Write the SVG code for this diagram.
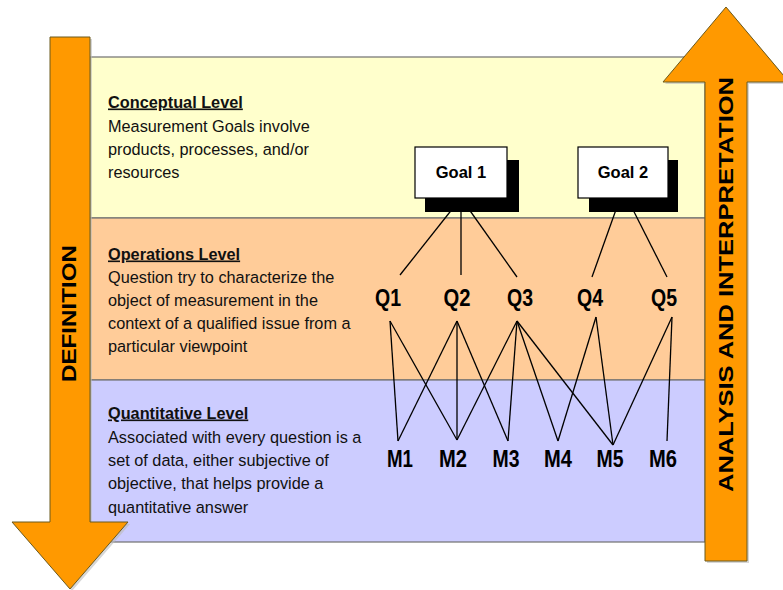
<svg xmlns="http://www.w3.org/2000/svg" width="783" height="590" viewBox="0 0 783 590">
<style>
.band{stroke:#707070;stroke-width:1.2}
.arrow{fill:#FF9900;stroke:#6B5A1E;stroke-width:1}
.lvl{font-family:"Liberation Sans",Arial,sans-serif;font-size:16.3px;fill:#111}
.title{font-weight:bold;text-decoration:underline}
.big{font-family:"Liberation Sans",Arial,sans-serif;font-weight:bold;font-size:23px;fill:#000;text-anchor:middle}
.goal{font-family:"Liberation Sans",Arial,sans-serif;font-weight:bold;font-size:16.5px;fill:#000;text-anchor:middle}
.vert{font-family:"Liberation Sans",Arial,sans-serif;font-weight:bold;font-size:20px;fill:#000;text-anchor:middle}
.conn line{stroke:#000;stroke-width:1.3}
</style>
<rect width="783" height="590" fill="#fff"/>
<g id="bands">
<rect class="band" x="90" y="57" width="615" height="161" fill="#FFFFCC"/>
<rect class="band" x="90" y="218" width="615" height="162" fill="#FFCC99"/>
<rect class="band" x="90" y="380" width="615" height="162" fill="#CCCCFF"/>
</g>
<g id="definition-arrow">
<polygon points="52,39 92,39 92,524 130,524 72,591 14,524 52,524" fill="#bbb" opacity="0.6"/>
<polygon class="arrow" points="50,37 90,37 90,522 128,522 70,589 12,522 50,522"/>
<text class="vert" transform="translate(76,313.5) rotate(-90)" textLength="137" lengthAdjust="spacingAndGlyphs">DEFINITION</text>
</g>
<g id="analysis-arrow">
<polygon points="707,563 749,563 749,84 791,84 728,9 665,84 707,84" fill="#bbb" opacity="0.6"/>
<polygon class="arrow" points="705,561 747,561 747,82 789,82 726,7 663,82 705,82"/>
<text class="vert" style="font-size:21px" transform="translate(732.5,284.5) rotate(-90)" textLength="415" lengthAdjust="spacingAndGlyphs">ANALYSIS AND INTERPRETATION</text>
</g>
<g id="conceptual-text" class="lvl">
<text class="title" x="108" y="107.5">Conceptual Level</text>
<text x="108" y="131.5">Measurement Goals involve</text>
<text x="108" y="154.5">products, processes, and/or</text>
<text x="108" y="177.5">resources</text>
</g>
<g id="operations-text" class="lvl">
<text class="title" x="108" y="259.5">Operations Level</text>
<text x="108" y="282.5">Question try to characterize the</text>
<text x="108" y="305.5">object of measurement in the</text>
<text x="108" y="328.5">context of a qualified issue from a</text>
<text x="108" y="352">particular viewpoint</text>
</g>
<g id="quantitative-text" class="lvl">
<text class="title" x="108" y="418.5">Quantitative Level</text>
<text x="108" y="442.5">Associated with every question is a</text>
<text x="108" y="465.5">set of data, either subjective of</text>
<text x="108" y="489">objective, that helps provide a</text>
<text x="108" y="512.5">quantitative answer</text>
</g>
<g id="connectors" class="conn">
<line x1="461" y1="198" x2="400" y2="275"/>
<line x1="461" y1="198" x2="461" y2="275"/>
<line x1="461" y1="198" x2="517" y2="277"/>
<line x1="623" y1="190" x2="592" y2="277"/>
<line x1="623" y1="190" x2="667" y2="277"/>
<line x1="390" y1="321" x2="398" y2="441"/>
<line x1="390" y1="321" x2="457" y2="440"/>
<line x1="457" y1="321" x2="398" y2="441"/>
<line x1="457" y1="321" x2="457" y2="440"/>
<line x1="457" y1="321" x2="508" y2="441"/>
<line x1="517" y1="321" x2="457" y2="440"/>
<line x1="517" y1="321" x2="508" y2="441"/>
<line x1="517" y1="321" x2="558" y2="441"/>
<line x1="517" y1="321" x2="613" y2="445"/>
<line x1="596" y1="317" x2="558" y2="441"/>
<line x1="596" y1="317" x2="613" y2="445"/>
<line x1="672" y1="317" x2="613" y2="445"/>
<line x1="672" y1="317" x2="667" y2="441"/>
</g>
<g id="goal1">
<rect x="425" y="160" width="94" height="52" fill="#000"/>
<rect x="415" y="147" width="92" height="51" fill="#fff" stroke="#000" stroke-width="1.2"/>
<text class="goal" x="461" y="178">Goal 1</text>
</g>
<g id="goal2">
<rect x="589" y="160" width="89" height="52" fill="#000"/>
<rect x="578" y="147" width="90" height="51" fill="#fff" stroke="#000" stroke-width="1.2"/>
<text class="goal" x="623" y="178">Goal 2</text>
</g>
<g id="q1"><text class="big" x="388" y="306" textLength="26" lengthAdjust="spacingAndGlyphs">Q1</text></g>
<g id="q2"><text class="big" x="457" y="306" textLength="27" lengthAdjust="spacingAndGlyphs">Q2</text></g>
<g id="q3"><text class="big" x="520" y="306" textLength="26" lengthAdjust="spacingAndGlyphs">Q3</text></g>
<g id="q4"><text class="big" x="590" y="306" textLength="26" lengthAdjust="spacingAndGlyphs">Q4</text></g>
<g id="q5"><text class="big" x="664" y="306" textLength="26" lengthAdjust="spacingAndGlyphs">Q5</text></g>
<g id="m1"><text class="big" x="400" y="467" textLength="26" lengthAdjust="spacingAndGlyphs">M1</text></g>
<g id="m2"><text class="big" x="453" y="467" textLength="28" lengthAdjust="spacingAndGlyphs">M2</text></g>
<g id="m3"><text class="big" x="506" y="467" textLength="27" lengthAdjust="spacingAndGlyphs">M3</text></g>
<g id="m4"><text class="big" x="558" y="467" textLength="28" lengthAdjust="spacingAndGlyphs">M4</text></g>
<g id="m5"><text class="big" x="610" y="467" textLength="27" lengthAdjust="spacingAndGlyphs">M5</text></g>
<g id="m6"><text class="big" x="663" y="467" textLength="28" lengthAdjust="spacingAndGlyphs">M6</text></g>
</svg>
